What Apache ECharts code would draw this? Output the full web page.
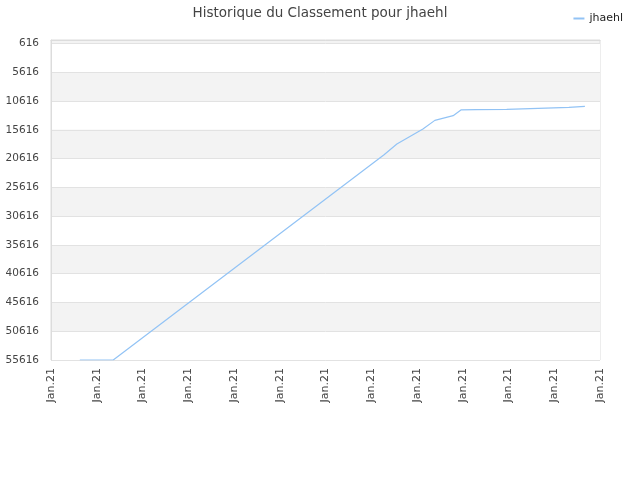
<!DOCTYPE html>
<html>
<head>
<meta charset="utf-8">
<script src="https://cdn.jsdelivr.net/npm/echarts@6/dist/echarts.min.js"></script>
<style>html,body{margin:0;padding:0;background:#fff}#c{width:640px;height:480px}</style>
</head>
<body>
<div id="c"></div>
<script>
var seriesName = 'jhaehl';
var xTickLabels = ['Jan.21','Jan.21','Jan.21','Jan.21','Jan.21','Jan.21','Jan.21','Jan.21','Jan.21','Jan.21','Jan.21','Jan.21','Jan.21'];
var yTickValues = [616, 5616, 10616, 15616, 20616, 25616, 30616, 35616, 40616, 45616, 50616, 55616];
var xValues = [0.63, 1.36, 7.28, 7.56, 8.13, 8.39, 8.79, 8.96, 9.29, 9.30, 9.96, 9.97, 10.65, 10.66, 11.32, 11.33, 11.67];
var rankValues = [55616, 55616, 19930, 18075, 15465, 13970, 13150, 12160, 12105, 12055, 12055, 11880, 11880, 11705, 11705, 11530, 11530];

var data = xValues.map(function (x, i) { return [x, rankValues[i]]; });

var chart = echarts.init(document.getElementById('c'));
chart.setOption({
  animation: false,
  title: {
    text: 'Historique du Classement pour jhaehl',
    left: 'center', top: 1,
    textStyle: { fontSize: 13.5, fontWeight: 'normal', color: '#444', fontFamily: 'DejaVu Sans' }
  },
  legend: {
    data: [seriesName], right: 12, top: 8,
    icon: 'rect', itemWidth: 11, itemHeight: 2, itemGap: 6,
    textStyle: { fontSize: 11, color: '#222', fontFamily: 'DejaVu Sans' }
  },
  grid: {
    left: 51, right: 40, top: 40, bottom: 120,
    show: true, backgroundColor: '#f3f3f3', borderColor: '#dcdcdc', borderWidth: 1
  },
  xAxis: {
    type: 'value', min: 0, max: 12, interval: 1,
    axisLine: { show: true, lineStyle: { color: '#dcdcdc' } },
    axisTick: { show: false },
    splitLine: { show: false },
    axisLabel: {
      rotate: 90, fontSize: 11, color: '#444', fontFamily: 'DejaVu Sans', margin: 8,
      formatter: function (v) { return xTickLabels[Math.round(v)]; }
    }
  },
  yAxis: {
    type: 'value', inverse: true, min: 0, max: 55616,
    axisLine: { show: true, lineStyle: { color: '#dcdcdc' } },
    axisTick: { show: false, customValues: yTickValues },
    axisLabel: {
      customValues: yTickValues, fontSize: 10.5, color: '#444', fontFamily: 'DejaVu Sans', margin: 12,
      formatter: function (v) { return String(v); }
    },
    splitLine: { show: true, lineStyle: { color: '#e2e2e2' } },
    splitArea: { show: true, areaStyle: { color: ['#ffffff', '#f3f3f3'] } }
  },
  series: [{
    name: seriesName, type: 'line', data: data,
    symbol: 'none', lineStyle: { width: 1.2, color: '#92c3f5' }, itemStyle: { color: '#92c3f5' }
  }]
});
</script>
</body>
</html>
